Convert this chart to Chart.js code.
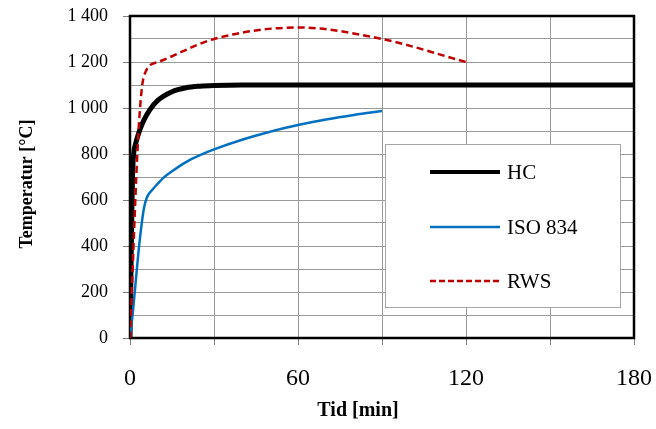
<!DOCTYPE html>
<html>
<head>
<meta charset="utf-8">
<script src="https://cdn.jsdelivr.net/npm/chart.js@4.4.1/dist/chart.umd.min.js"></script>
<style>
  html, body { margin: 0; padding: 0; background: #fff; }
  #wrap { position: relative; width: 656px; height: 429px; }
</style>
</head>
<body>
<div id="wrap"><canvas id="c" width="656" height="429"></canvas></div>
<script>
// ---- data ----
const seriesNames = ['HC', 'ISO 834', 'RWS'];

const hcTime  = [0, 1, 2, 3, 4, 5, 7, 10, 15, 20, 25, 30, 40, 60, 90, 120, 150, 180];
const hcTemp  = [0, 740, 844, 887, 920, 948, 991, 1034, 1071, 1088, 1095, 1098, 1100, 1100, 1100, 1100, 1100, 1100];

const isoTime = [0, 1, 2, 3, 4, 5, 6, 8, 10, 12, 15, 20, 25, 30, 40, 50, 60, 70, 80, 90];
const isoTemp = [0, 110, 240, 370, 480, 565, 610, 645, 672, 697, 725, 765, 795, 820, 862, 897, 926, 950, 970, 987];

const rwsTime = [0, 3, 5, 10, 30, 60, 90, 120];
const rwsTemp = [0, 890, 1140, 1200, 1300, 1350, 1300, 1200];

const xTickValues = [0, 60, 120, 180];
const yTickValues = [0, 200, 400, 600, 800, 1000, 1200, 1400];
const xTitle = 'Tid [min]';
const yTitle = 'Temperatur [°C]';

const FONT = "'Liberation Serif', 'Times New Roman', serif";

function pts(xs, ys) { return xs.map((x, i) => ({ x: x, y: ys[i] })); }

const datasets = [
  { label: seriesNames[2], data: pts(rwsTime, rwsTemp), borderColor: '#c00000', borderWidth: 2.5,
    borderDash: [7, 4], cubicInterpolationMode: 'monotone', order: 1 },
  { label: seriesNames[1], data: pts(isoTime, isoTemp), borderColor: '#0070c0', borderWidth: 2.5,
    cubicInterpolationMode: 'monotone', order: 2 },
  { label: seriesNames[0], data: pts(hcTime, hcTemp), borderColor: '#000000', borderWidth: 5,
    cubicInterpolationMode: 'monotone', order: 3 }
];

const frameAndLegend = {
  id: 'frameAndLegend',
  beforeDatasetsDraw(chart) {
    const { ctx, chartArea: a } = chart;
    ctx.save();
    ctx.strokeStyle = '#000';
    ctx.lineWidth = 2.5;
    ctx.strokeRect(a.left, a.top, a.right - a.left, a.bottom - a.top);
    ctx.restore();
  },
  afterDraw(chart) {
    const { ctx } = chart;
    ctx.save();
    // axis titles
    ctx.fillStyle = '#000';
    ctx.textAlign = 'center';
    ctx.textBaseline = 'middle';
    ctx.font = 'bold 20px ' + FONT;
    ctx.fillText(xTitle, 358, 411);
    ctx.font = 'bold 18px ' + FONT;
    ctx.save();
    ctx.translate(27, 184);
    ctx.rotate(-Math.PI / 2);
    ctx.fillText(yTitle, 0, 0);
    ctx.restore();
    // legend
    ctx.fillStyle = '#fff';
    ctx.fillRect(385.5, 144.5, 235, 163);
    ctx.strokeStyle = '#a6a6a6';
    ctx.lineWidth = 1;
    ctx.strokeRect(385.5, 144.5, 235, 163);
    const rows = [
      { ds: datasets[2], y: 172, w: 4 },
      { ds: datasets[1], y: 227, w: 2.5 },
      { ds: datasets[0], y: 281, w: 2.5 }
    ];
    rows.forEach(r => {
      ctx.beginPath();
      ctx.strokeStyle = r.ds.borderColor;
      ctx.lineWidth = r.w;
      ctx.setLineDash(r.ds.borderDash ? [6, 3] : []);
      ctx.moveTo(430, r.y);
      ctx.lineTo(500, r.y);
      ctx.stroke();
      ctx.setLineDash([]);
      ctx.fillStyle = '#000';
      ctx.font = '21px ' + FONT;
      ctx.textBaseline = 'middle';
      ctx.textAlign = 'left';
      ctx.fillText(r.ds.label, 507, r.y + 1);
    });
    ctx.restore();
  }
};

new Chart(document.getElementById('c'), {
  type: 'line',
  data: { datasets: datasets },
  options: {
    responsive: false,
    animation: false,
    devicePixelRatio: 1,
    layout: { padding: { top: 16, right: 22, left: 0, bottom: 0 } },
    elements: { point: { radius: 0 }, line: { fill: false } },
    plugins: { legend: { display: false }, tooltip: { enabled: false } },
    scales: {
      x: {
        type: 'linear', min: 0, max: 180,
        afterFit(s) { s.height = 91; s.paddingLeft = 0; s.paddingRight = 0; },
        ticks: {
          stepSize: 30, padding: 19, color: '#000', maxRotation: 0, autoSkip: false,
          font: { family: FONT, size: 24 },
          callback: v => xTickValues.includes(v) ? String(v) : ''
        },
        grid: { color: '#999999', lineWidth: 1, tickLength: 7, tickColor: '#808080' },
        border: { display: false },
        title: { display: false }
      },
      y: {
        type: 'linear', min: 0, max: 1400,
        afterFit(s) { s.width = 130; s.paddingTop = 0; s.paddingBottom = 0; },
        ticks: {
          stepSize: 100, padding: 15, color: '#000', autoSkip: false,
          font: { family: FONT, size: 18 },
          callback: v => yTickValues.includes(v)
            ? String(v).replace(/\B(?=(\d{3})+(?!\d))/g, ' ') : ''
        },
        grid: { color: '#999999', lineWidth: 1, tickLength: 7,
          tickColor: c => (c.tick && yTickValues.includes(c.tick.value)) ? '#808080' : 'rgba(0,0,0,0)' },
        border: { display: false },
        title: { display: false }
      }
    }
  },
  plugins: [frameAndLegend]
});
</script>
</body>
</html>
